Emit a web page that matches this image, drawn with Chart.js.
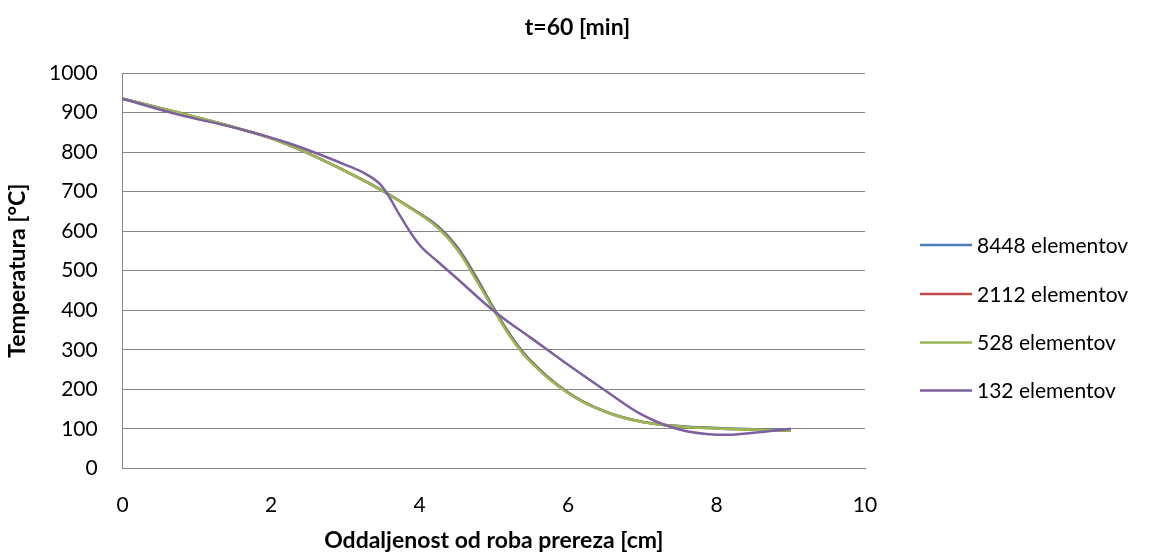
<!DOCTYPE html>
<html>
<head>
<meta charset="utf-8">
<script src="https://cdn.jsdelivr.net/npm/chart.js@4/dist/chart.umd.min.js"></script>
<style>
  html, body { margin: 0; padding: 0; background: #ffffff; }
  #wrap { width: 1155px; height: 557px; }
</style>
</head>
<body>
<div id="wrap"><canvas id="c" width="1155" height="557"></canvas></div>
<script>
// Distance from the section edge [cm] and temperature [°C] for each mesh
const xFine   = [0, 0.5, 1, 1.5, 2, 2.5, 3, 3.5, 4, 4.25, 4.5, 4.75, 5, 5.25, 5.5, 6, 6.5, 7, 7.5, 8, 8.5, 9];
const t8448   = [935, 912, 888, 863, 835, 797, 752, 703, 645, 612, 562, 488, 405, 330, 272, 192, 144, 118, 107, 102, 99, 96];
const t2112   = [935, 912, 888, 863, 835, 797, 752, 702, 644, 609, 558, 484, 402, 327, 270, 191, 143, 117, 106, 101, 98, 95];
const t528    = [935, 912, 888, 863, 835, 797, 752, 702, 643, 607, 555, 480, 400, 325, 268, 190, 143, 117, 106, 101, 98, 95];
const x132    = [0, 0.75, 1.5, 2.25, 3, 3.3, 3.5, 3.75, 4, 4.25, 4.5, 5, 5.5, 6, 6.5, 7, 7.5, 8, 8.5, 9];
const t132    = [935, 895, 862, 822, 768, 742, 712, 635, 565, 522, 481, 398, 330, 262, 197, 135, 98, 85, 90, 100];

const seriesNames  = ['8448 elementov', '2112 elementov', '528 elementov', '132 elementov'];
const seriesColors = ['#4A7EBB', '#BE4B48', '#98B954', '#7D60A0'];

const xTicks = [0, 2, 4, 6, 8, 10];
const yTicks = [0, 100, 200, 300, 400, 500, 600, 700, 800, 900, 1000];

const chartTitle = 't=60 [min]';
const xTitle = 'Oddaljenost od roba prereza [cm]';
const yTitle = 'Temperatura [°C]';

const FONT = 'Lato, "Open Sans", sans-serif';

function pts(xs, ys) { return xs.map((x, i) => ({ x: x, y: ys[i] })); }

const seriesData = [pts(xFine, t8448), pts(xFine, t2112), pts(xFine, t528), pts(x132, t132)];

// Legend drawn at the right of the plot, one short line per series
const sideLegend = {
  id: 'sideLegend',
  afterDraw(chart) {
    const ctx = chart.ctx;
    const rows = [245, 294, 342.5, 390.5];
    ctx.save();
    ctx.font = '21px ' + FONT;
    ctx.textBaseline = 'middle';
    ctx.textAlign = 'left';
    chart.data.datasets.forEach((ds, i) => {
      const y = rows[i];
      ctx.strokeStyle = ds.borderColor;
      ctx.lineWidth = 2.5;
      ctx.beginPath();
      ctx.moveTo(920, y);
      ctx.lineTo(972, y);
      ctx.stroke();
      ctx.fillStyle = '#000000';
      ctx.fillText(ds.label, 977, y + 1);
    });
    ctx.restore();
  }
};

new Chart(document.getElementById('c'), {
  type: 'line',
  data: {
    datasets: seriesData.map((d, i) => ({
      label: seriesNames[i],
      data: d,
      borderColor: seriesColors[i],
      backgroundColor: seriesColors[i],
      borderWidth: 2.5,
      pointRadius: 0,
      pointHoverRadius: 0,
      tension: 0.4,
      fill: false,
      order: seriesData.length - i
    }))
  },
  options: {
    responsive: false,
    animation: false,
    events: [],
    layout: { padding: 0 },
    plugins: {
      legend: { display: false },
      tooltip: { enabled: false },
      title: {
        display: true,
        text: chartTitle,
        color: '#000000',
        font: { family: FONT, size: 23, weight: 'bold' },
        padding: { top: 14, bottom: 31.5 }
      }
    },
    scales: {
      x: {
        type: 'linear',
        min: 0,
        max: 10,
        afterBuildTicks(scale) { scale.ticks = xTicks.map(v => ({ value: v })); },
        afterFit(scale) { scale.height = 88.7; },
        grid: { display: false, drawTicks: false },
        border: { display: true, color: '#868686', width: 1 },
        ticks: {
          color: '#000000',
          font: { family: FONT, size: 21 },
          padding: 24,
          maxRotation: 0,
          callback: v => String(v)
        },
        title: {
          display: true,
          text: xTitle,
          color: '#000000',
          font: { family: FONT, size: 23, weight: 'bold' },
          padding: { top: 0, bottom: 3 }
        }
      },
      y: {
        type: 'linear',
        min: 0,
        max: 1000,
        afterBuildTicks(scale) { scale.ticks = yTicks.map(v => ({ value: v })); },
        afterFit(scale) { scale.width = 122.7; },
        grid: { display: true, drawTicks: false, color: '#868686', lineWidth: 1 },
        border: { display: true, color: '#868686', width: 1 },
        ticks: {
          color: '#000000',
          font: { family: FONT, size: 21 },
          padding: 25,
          callback: v => String(v)
        },
        title: {
          display: true,
          text: yTitle,
          color: '#000000',
          font: { family: FONT, size: 23, weight: 'bold' },
          padding: { top: 4, bottom: 0 }
        }
      },
      // empty right-hand axis that keeps room free for the series legend
      legendSpace: {
        type: 'linear',
        position: 'right',
        display: true,
        afterFit(scale) { scale.width = 290; },
        grid: { display: false, drawTicks: false },
        border: { display: false },
        ticks: { display: false }
      }
    }
  },
  plugins: [sideLegend]
});
</script>
</body>
</html>
